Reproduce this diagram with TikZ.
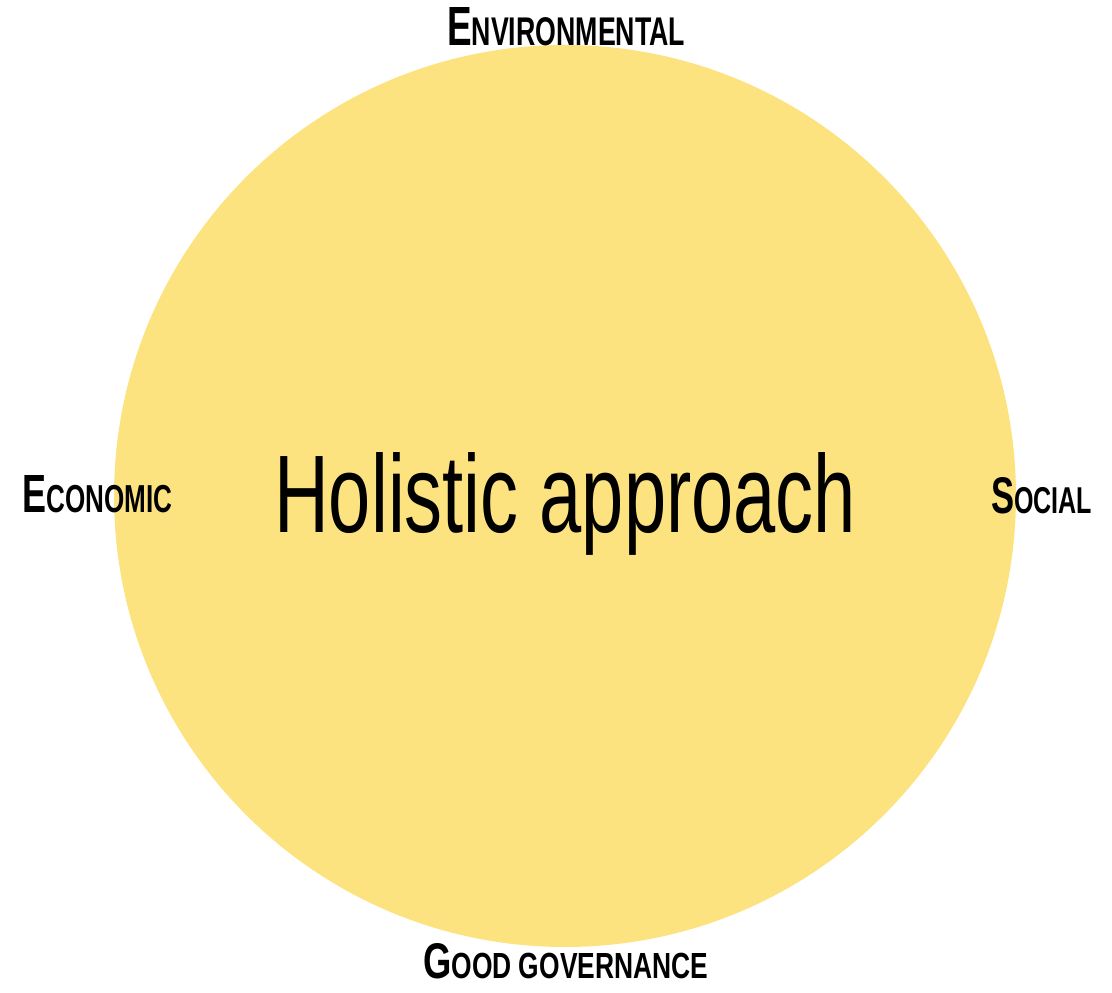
\documentclass[tikz,border=0pt]{standalone}
\usepackage{fontspec}
\setmainfont{Liberation Sans}
\usepackage{graphicx}
\definecolor{sun}{RGB}{253,227,128}
\newcommand{\sclabel}[4]{\resizebox{#1}{#2}{\bfseries\fontsize{40}{40}\selectfont #3\fontsize{29}{30}\selectfont #4}}
\begin{document}
\begin{tikzpicture}[x=1pt,y=-1pt,
  lbl/.style={inner sep=0pt, anchor=base west, text=black},
  disc/.style={circle, fill=sun, draw=none, inner sep=0pt, minimum size=902pt}]
\useasboundingbox (0,0) rectangle (1112,993);
\node[disc] (circ) at (565,496) {};
\node[lbl] (holistic) at (274,532) {\resizebox{582pt}{80pt}{\fontsize{100}{100}\selectfont Holistic approach}};
\node[lbl] (env) at (447,45) {\sclabel{238pt}{38pt}{E}{NVIRONMENTAL}};
\node[lbl] (econ) at (22,512) {\sclabel{150pt}{37pt}{E}{CONOMIC}};
\node[lbl] (soc) at (991,513) {\sclabel{101pt}{36pt}{S}{OCIAL}};
\node[lbl] (good) at (423,978) {\sclabel{285pt}{35pt}{G}{OOD GOVERNANCE}};
\end{tikzpicture}
\end{document}
